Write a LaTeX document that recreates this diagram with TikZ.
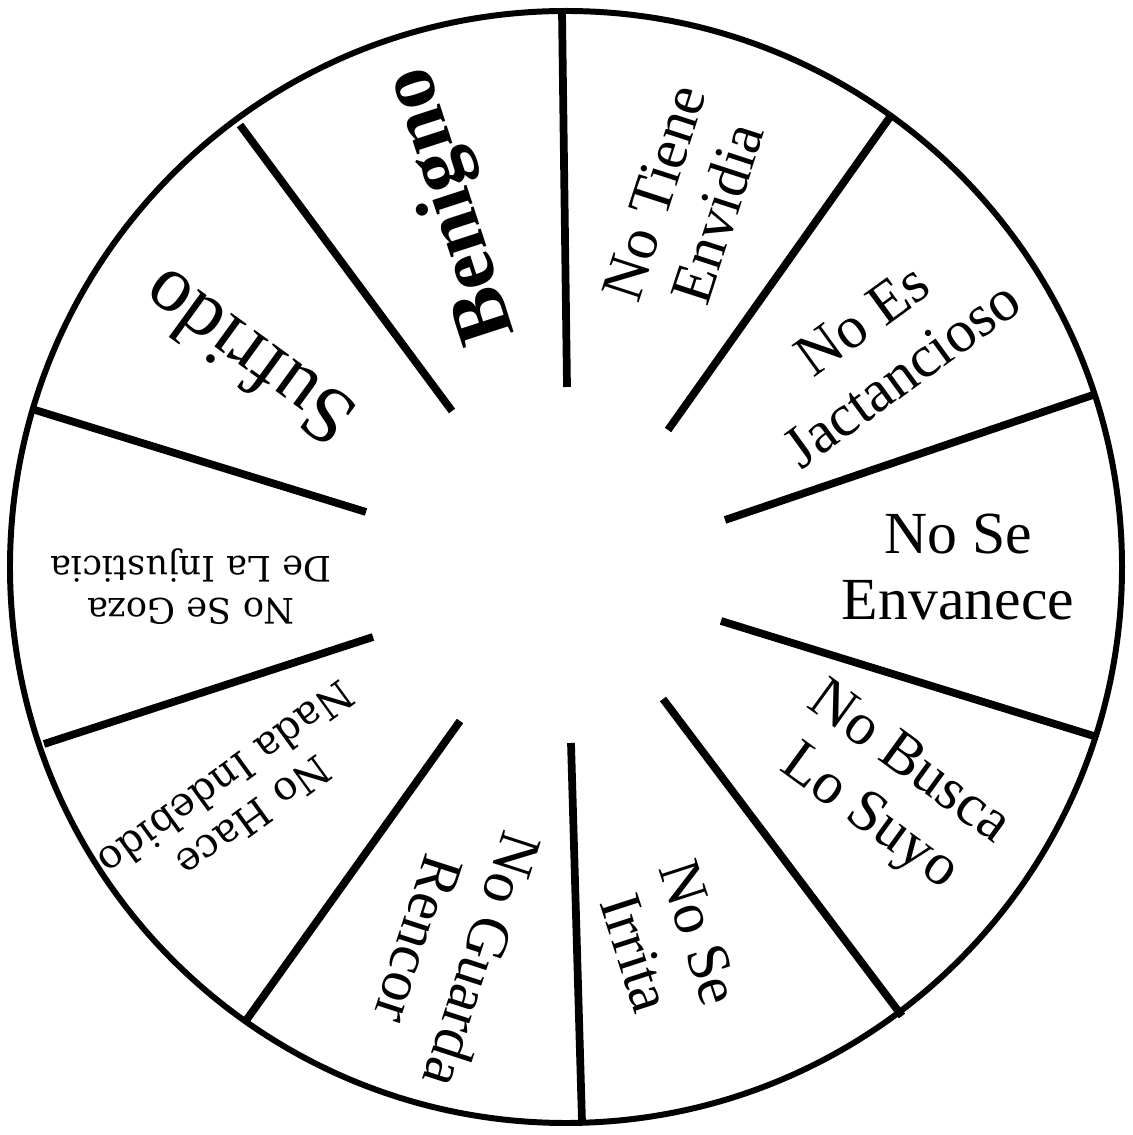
\documentclass[tikz,border=0pt]{standalone}
\usepackage{fontspec}
\setmainfont{Liberation Serif}
\newfontfamily\geo{DejaVu Serif}
\usepackage{tikz}
\tikzset{
  rim/.style={line width=3.4pt},
  spoke/.style={line width=4.4pt},
  word/.style={align=center, inner sep=0pt, font=\fontsize{34}{38}\selectfont},
  bigword/.style={align=center, inner sep=0pt, font=\fontsize{46}{50}\selectfont},
  smallword/.style={align=center, inner sep=0pt, font=\geo\fontsize{20}{24}\selectfont},
  midword/.style={align=center, inner sep=0pt, font=\geo\fontsize{23}{27}\selectfont},
}

\begin{document}
\begin{tikzpicture}[x=0.02cm, y=0.02cm]
    \useasboundingbox (0,0) rectangle (1132,1135);
    \coordinate (hub) at (566,568);
    \draw[rim] (hub) circle[radius=556];
    % spokes: inner end / outer end
    \foreach \xa/\ya/\xb/\yb in {567/748/562/1123, 668/705/890/1018, 725/615/1093/740,
        721/514/1097/398, 663/436/902/119, 571/392/582/13, 460/414/245/113,
        373/498/44/391, 366/623/35/725, 452/724/240/1010}
      { \draw[spoke] (\xa,\ya) -- (\xb,\yb); }
    % sector labels
    \foreach \n/\x/\y/\a/\s/\t in {
        tiene/686/932/72/word/{No Tiene\\Envidia},
        jact/882/788/36/word/{No Es\\Jactancioso},
        envan/958/568/0/word/{No Se\\Envanece},
        busca/888/343/-36/word/{No Busca\\Lo Suyo},
        irrita/668/192/-72/word/{No Se\\Irrita},
        rencor/451/185/-108/word/{No Guarda\\Rencor},
        hace/240/337/-144/midword/{No Hace\\Nada Indebido},
        goza/191/548/180/smallword/{No Se Goza\\De La Injusticia}}
      { \node[\s, rotate=\a] (\n) at (\x,\y) {\t}; }
    \node[bigword, rotate=144] (sufrido) at (247,776) {Sufrido};
    \node[bigword, rotate=108] (benigno) at (453,930) {\bfseries Benigno};
\end{tikzpicture}
\end{document}
